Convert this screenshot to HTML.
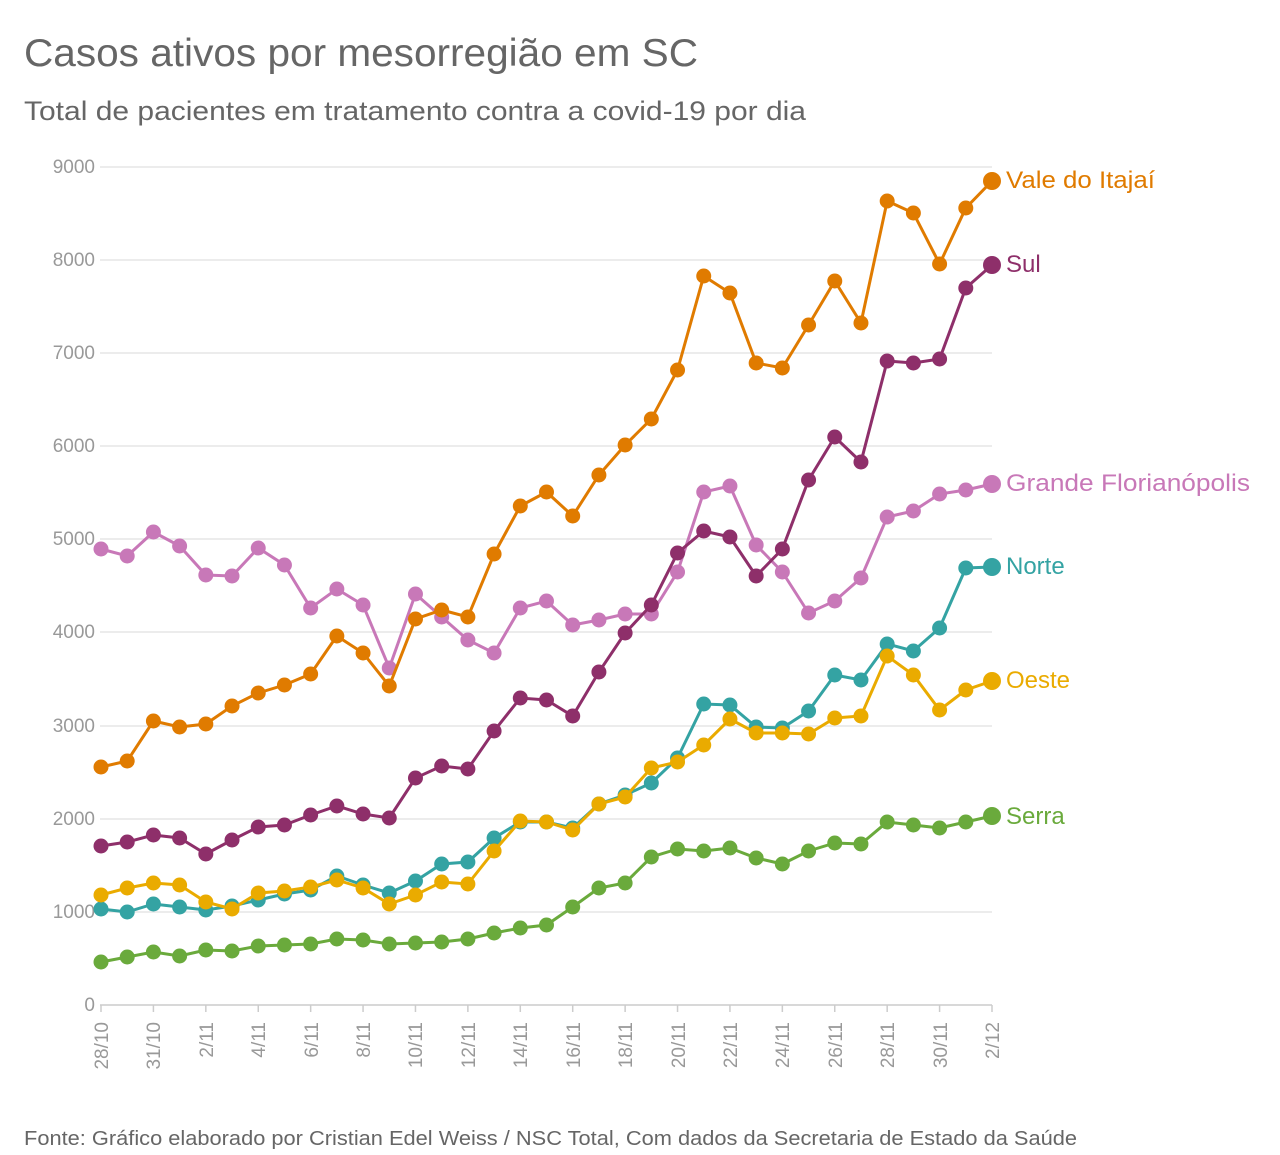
<!DOCTYPE html>
<html><head><meta charset="utf-8"><style>
body{margin:0;background:#fff;width:1280px;height:1150px;overflow:hidden;font-family:"Liberation Sans",sans-serif}
</style></head><body>
<svg id="s" width="1280" height="1150" xmlns="http://www.w3.org/2000/svg" font-family="Liberation Sans, sans-serif">
<text x="24" y="66" font-size="39" fill="#666" textLength="674" lengthAdjust="spacingAndGlyphs">Casos ativos por mesorregião em SC</text>
<text x="24" y="120" font-size="27" fill="#666" textLength="782" lengthAdjust="spacingAndGlyphs">Total de pacientes em tratamento contra a covid-19 por dia</text>
<text x="24" y="1145" font-size="20" fill="#666" textLength="1053" lengthAdjust="spacingAndGlyphs">Fonte: Gráfico elaborado por Cristian Edel Weiss / NSC Total, Com dados da Secretaria de Estado da Saúde</text>
<g stroke="#e6e6e6" stroke-width="1.5">
<line x1="100" x2="992" y1="167" y2="167"/><line x1="100" x2="992" y1="260" y2="260"/><line x1="100" x2="992" y1="353" y2="353"/><line x1="100" x2="992" y1="446" y2="446"/><line x1="100" x2="992" y1="539" y2="539"/><line x1="100" x2="992" y1="632" y2="632"/><line x1="100" x2="992" y1="726" y2="726"/><line x1="100" x2="992" y1="819" y2="819"/><line x1="100" x2="992" y1="912" y2="912"/>
</g>
<line x1="100" x2="992" y1="1005" y2="1005" stroke="#ccc" stroke-width="1.5"/>
<g font-size="19" fill="#999" text-anchor="end">
<text x="95" y="173">9000</text><text x="95" y="266">8000</text><text x="95" y="359">7000</text><text x="95" y="452">6000</text><text x="95" y="545">5000</text><text x="95" y="638">4000</text><text x="95" y="732">3000</text><text x="95" y="825">2000</text><text x="95" y="918">1000</text><text x="95" y="1011">0</text>
</g>
<g id="ticks" stroke="#ccc" stroke-width="1.5"></g>
<g font-size="19" fill="#999" text-anchor="end">
<text transform="translate(108,1022) rotate(-90)">28/10</text>
<text transform="translate(160,1022) rotate(-90)">31/10</text>
<text transform="translate(213,1022) rotate(-90)">2/11</text>
<text transform="translate(265,1022) rotate(-90)">4/11</text>
<text transform="translate(318,1022) rotate(-90)">6/11</text>
<text transform="translate(370,1022) rotate(-90)">8/11</text>
<text transform="translate(422,1022) rotate(-90)">10/11</text>
<text transform="translate(475,1022) rotate(-90)">12/11</text>
<text transform="translate(527,1022) rotate(-90)">14/11</text>
<text transform="translate(580,1022) rotate(-90)">16/11</text>
<text transform="translate(632,1022) rotate(-90)">18/11</text>
<text transform="translate(685,1022) rotate(-90)">20/11</text>
<text transform="translate(737,1022) rotate(-90)">22/11</text>
<text transform="translate(789,1022) rotate(-90)">24/11</text>
<text transform="translate(842,1022) rotate(-90)">26/11</text>
<text transform="translate(894,1022) rotate(-90)">28/11</text>
<text transform="translate(947,1022) rotate(-90)">30/11</text>
<text transform="translate(999,1022) rotate(-90)">2/12</text>
</g>
<g id="series"></g>
<g font-size="24">
<text x="1006" y="188" fill="#e07b00" textLength="149" lengthAdjust="spacingAndGlyphs">Vale do Itajaí</text>
<text x="1006" y="272" fill="#8e2f6a">Sul</text>
<text x="1006" y="491" fill="#c878b8" textLength="244" lengthAdjust="spacingAndGlyphs">Grande Florianópolis</text>
<text x="1006" y="574" fill="#34a3a3">Norte</text>
<text x="1006" y="688" fill="#eaab00">Oeste</text>
<text x="1006" y="824" fill="#6aaa3c">Serra</text>
</g>
</svg>
<script>
var NS="http://www.w3.org/2000/svg";
function X(i){return 101+i*891/34;}
var t=document.getElementById("ticks");
for(var i=0;i<35;i+=2){var l=document.createElementNS(NS,"line");l.setAttribute("x1",X(i));l.setAttribute("x2",X(i));l.setAttribute("y1",1005);l.setAttribute("y2",1012);t.appendChild(l);}
var S=[
["#6aaa3c",[962,957,952,956,950,951,946,945,944,939,940,944,943,942,939,933,928,925,907,888,883,857,849,851,848,858,864,851,843,844,822,825,828,822,816]],
["#34a3a3",[909,912,904,907,910,906,900,894,890,876,885,893,881,864,862,838,822,822,828,804,795,783,758,704,705,727,728,711,675,680,644,651,628,568,567]],
["#eaab00",[895,888,883,885,902,909,893,891,887,880,888,904,895,882,884,851,821,822,830,804,797,768,762,745,719,733,733,734,718,716,656,675,710,690,681]],
["#c878b8",[549,556,532,546,575,576,548,565,608,589,605,668,594,617,640,653,608,601,625,620,614,614,572,492,486,545,572,613,601,578,517,511,494,490,484]],
["#8e2f6a",[846,842,835,838,854,840,827,825,815,806,814,818,778,766,769,731,698,700,716,672,633,605,553,531,537,576,549,480,437,462,361,363,359,288,265]],
["#e07b00",[767,761,721,727,724,706,693,685,674,636,653,686,619,610,617,554,506,492,516,475,445,419,370,276,293,363,368,325,281,323,201,213,264,208,181]]
];
var g=document.getElementById("series");
S.forEach(function(s){var p=document.createElementNS(NS,"polyline");
p.setAttribute("points",s[1].map(function(y,i){return X(i)+","+y}).join(" "));
p.setAttribute("fill","none");p.setAttribute("stroke",s[0]);p.setAttribute("stroke-width","3");g.appendChild(p);
s[1].forEach(function(y,i){var c=document.createElementNS(NS,"circle");c.setAttribute("cx",X(i));c.setAttribute("cy",y);c.setAttribute("r",i==34?9:7.5);c.setAttribute("fill",s[0]);g.appendChild(c);});});
</script>
</body></html>
